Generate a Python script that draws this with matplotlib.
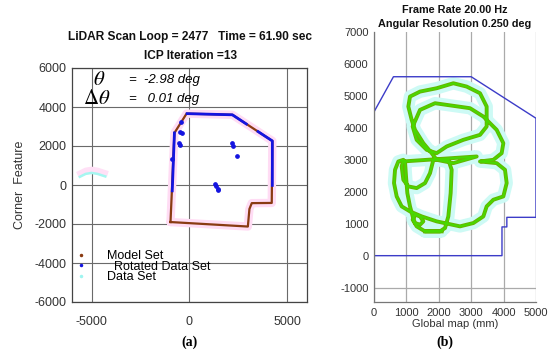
import numpy as np
import matplotlib
matplotlib.use("Agg")
import matplotlib.pyplot as plt
from matplotlib.lines import Line2D

plt.rcParams['font.family'] = ['Liberation Sans', 'DejaVu Sans']
plt.rcParams['mathtext.fontset'] = 'stix'
plt.rcParams['axes.unicode_minus'] = False

# ---- (a) ICP corner features ----
model_x = [-970, -770, -150, 2190, 4230, 4200, 3180, 3060, 2980, -970]
model_y = [-1900, 2670, 3660, 3600, 2260, -920, -930, -1230, -2130, -1900]

# rotated data: dense scan segments (nan = break)
rot_x = [-880, -770, np.nan, -120, 2190, 2900, np.nan, 3500, 4230, 4230]
rot_y = [-300, 2670, np.nan, 3660, 3600, 3130, np.nan, 2740, 2260, -20]
# isolated rotated points
rot_pts_x = [-460, -360, -520, -500, -420, 2180, 2200, 2450, 1300, 1350, 1480, 1430, -870]
rot_pts_y = [2720, 2670, 2150, 2050, 3250, 2150, 2000, 1490, 50, -50, -250, -200, 1330]

data_x = [-5600, -5300, -5000, -4700, -4300]
data_y = [420, 570, 620, 570, 440]

theta = -2.98
dtheta = 0.01
scan_loop = 2477
scan_time = 61.90
icp_iter = 13

# ---- (b) global map ----
map_x = [0, 600, 3000, 5000, 5000, 4100, 4100, 3950, 3950, 0, 0]
map_y = [4500, 5600, 5600, 4300, 1200, 1200, 900, 900, 0, 0, 4500]

traj_x = [2088, 1574, 1317, 1194, 1266, 1420, 1523, 1420, 1266, 1194, 1111, 1029, 988, 957, 885,
          3169, 2449, 1934, 1780, 1523, 1266, 1163, 1060, 1111, 1420, 1934, 2449, 2860, 3272, 3477,
          3477, 3272, 2757, 2243, 1934, 1626, 1317, 1194, 1420, 1883, 2243, 2963, 3375, 3786, 3992,
          3940, 3683, 3272, 3786, 4043, 4095, 3992, 3683, 3477, 3375, 3066, 2654, 1934, 1471, 1111,
          854, 700, 618, 649, 751, 906, 854, 906, 1060, 1317, 1574, 1729, 1832, 2294, 2397,
          2366, 2294, 2192, 2037, 1574]
traj_y = [760, 760, 917, 1125, 1281, 1229, 1073, 969, 1021, 1229, 1542, 1958, 2479, 2948, 2948,
          3104, 2896, 3000, 3208, 3521, 3937, 4250, 4667, 4979, 5135, 5240, 5396, 5292, 5083, 4667,
          4042, 3781, 3625, 3417, 3208, 3312, 3625, 4042, 4562, 4771, 4719, 4615, 4354, 3937, 3521,
          3208, 3000, 2948, 2896, 2687, 2271, 1854, 1750, 1542, 1229, 1021, 917, 1073, 1229, 1385,
          1542, 1854, 2271, 2687, 2948, 3000, 2792, 2375, 2167, 2115, 2271, 2583, 3000, 3000, 2687,
          1958, 1229, 865, 760, 760]

frame_rate = 20.00
ang_res = 0.250

fig = plt.figure(figsize=(5.5, 3.51), dpi=100)
W, H = 550, 351

def px_axes(x0, y0, x1, y1):
    return fig.add_axes([x0 / W, 1 - y1 / H, (x1 - x0) / W, (y1 - y0) / H])

tick_col = '#333333'

# ---------- left ----------
ax = px_axes(72, 68, 307, 302)
ax.set_xlim(-6000, 6000)
ax.set_ylim(-6000, 6000)
ax.set_xticks([-5000, 0, 5000])
ax.set_yticks(range(-6000, 6001, 2000))
ax.grid(True, color='#6a6a6a', lw=0.8)
ax.set_axisbelow(True)
ax.tick_params(length=0, labelsize=9, colors=tick_col)
ax.tick_params(axis='x', pad=10)
ax.tick_params(axis='y', pad=4)
for s in ax.spines.values():
    s.set_color('#444444')
    s.set_linewidth(0.9)

ax.plot(model_x, model_y, color='#ffdcf4', lw=6, solid_capstyle='round',
        solid_joinstyle='round', zorder=2)
ax.plot(data_x, [v + 180 for v in data_y], color='#ffe0f6', lw=4, zorder=2)
ax.plot(data_x, data_y, color='#a6f6f0', lw=1.8, zorder=3)
ax.plot(model_x, model_y, color='#8a3b12', lw=1.6, zorder=4)
ax.plot(rot_x, rot_y, color='#1414e0', lw=2.0, zorder=5)
ax.plot(rot_pts_x, rot_pts_y, 'o', color='#1414e0', ms=2.4, zorder=5)

ax.text(-4600, 5420, r'$\theta$', fontsize=15, ha='center', va='center')
ax.text(-3100, 5380, f'=  {theta:.2f} deg', fontsize=9.5, style='italic', va='center')
ax.text(-4750, 4460, r'$\Delta\theta$', fontsize=15, ha='center', va='center')
ax.text(-3100, 4410, f'=   {dtheta:.2f} deg', fontsize=9.5, style='italic', va='center')

handles = [Line2D([], [], ls='', marker='.', ms=3, color='#8a3b12'),
           Line2D([], [], ls='', marker='.', ms=3, color='#1414e0'),
           Line2D([], [], ls='', marker='.', ms=3, color='#9ff5f0')]
ax.legend(handles, ['Model Set', '  Rotated Data Set', 'Data Set'], loc='lower left',
          bbox_to_anchor=(0.0, 0.07), frameon=False, fontsize=9, handlelength=1.0,
          handletextpad=1.6, labelspacing=-0.12, borderpad=0.2, borderaxespad=0)

ax.set_ylabel('Corner  Feature', fontsize=9, color=tick_col, labelpad=6)
fig.text(190 / W, 1 - 37 / H, f'LiDAR Scan Loop = {scan_loop}   Time = {scan_time:.2f} sec',
         ha='center', va='center', fontsize=8.6, fontweight='bold', color='#111111')
fig.text(190 / W, 1 - 56 / H, f'ICP Iteration ={icp_iter}', ha='center', va='center',
         fontsize=8.6, fontweight='bold', color='#111111')
fig.text(190 / W, 1 - 342 / H, '(a)', ha='center', va='center', fontsize=10,
         fontweight='bold', family='Liberation Serif')

# ---------- right ----------
bx = px_axes(374, 32, 536, 302)
bx.set_xlim(0, 5000)
bx.set_ylim(-1450, 7000)
bx.set_xticks(range(0, 5001, 1000))
bx.set_yticks(range(-1000, 7001, 1000))
bx.grid(True, axis='x', color='#aaaaaa', lw=0.9)
bx.axhline(-1000, color='#aaaaaa', lw=0.9, zorder=0)
bx.set_axisbelow(True)
bx.tick_params(length=0, labelsize=8, colors=tick_col, pad=4)
bx.spines['top'].set_visible(False)
bx.spines['right'].set_visible(False)
for s in ['left', 'bottom']:
    bx.spines[s].set_color('#777777')
    bx.spines[s].set_linewidth(0.9)

bx.plot(map_x, map_y, color='#3c3cc8', lw=1.0, zorder=2)
bx.plot(traj_x, traj_y, color='#cdfaf5', lw=9, solid_joinstyle='round',
        solid_capstyle='round', zorder=1)
bx.plot(traj_x, traj_y, color='#66b400', lw=2.8, solid_joinstyle='round', zorder=3)
bx.plot(traj_x, traj_y, color='#48d800', lw=1.4, solid_joinstyle='round', zorder=4)

fig.text(455 / W, 1 - 10 / H, f'Frame Rate {frame_rate:.2f} Hz', ha='center', va='center',
         fontsize=7.8, fontweight='bold', color='#111111')
fig.text(455 / W, 1 - 24 / H, f'Angular Resolution {ang_res:.3f} deg', ha='center', va='center',
         fontsize=7.8, fontweight='bold', color='#111111')
bx.set_xlabel('Global map (mm)', fontsize=8, color=tick_col, labelpad=1)
fig.text(445 / W, 1 - 342 / H, '(b)', ha='center', va='center', fontsize=10,
         fontweight='bold', family='Liberation Serif')

fig.savefig('out.png', dpi=100)
